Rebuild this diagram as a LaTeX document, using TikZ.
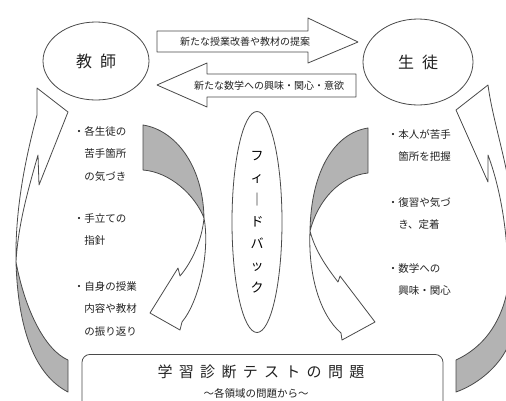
\documentclass[tikz,border=0pt]{standalone}
\usepackage{fontspec}
\setmainfont{Noto Sans CJK JP}
\usetikzlibrary{shapes.geometric}
\definecolor{lc}{HTML}{4A4A4A}
\definecolor{gf}{HTML}{B3B3B3}
\definecolor{tc}{HTML}{222222}
\newcommand{\itm}{\llap{・}}
\newcommand{\tsp}{\hspace{0.42em}}

\begin{document}
\begin{tikzpicture}[x=1pt, y=-1pt, line width=0.8pt,
  ln/.style={draw=lc, line join=round},
  band/.style={ln, fill=gf},
  blk/.style={ln, fill=white},
  oval/.style={draw=lc, ellipse, inner sep=0pt},
  lab/.style={text=tc, inner sep=0pt, font=\fontsize{10}{12}\selectfont},
  note/.style={text=tc, inner sep=0pt, anchor=north west, align=left, font=\fontsize{10.5}{22.5}\selectfont}]
\useasboundingbox (0,0) rectangle (506,400);
\fill[white] (0,0) rectangle (506,400);
\clip (0,0) rectangle (506,400);

\node[oval, minimum width=106pt, minimum height=78pt, font=\fontsize{16}{18}\selectfont, text=tc] (t) at (96,61) {教\hspace{0.5em}師};
\node[oval, minimum width=110pt, minimum height=86pt, font=\fontsize{16}{18}\selectfont, text=tc] (s) at (418,62) {生\hspace{0.5em}徒};
\node[oval, minimum width=50pt, minimum height=221pt, align=center, font=\fontsize{13}{22}\selectfont] (f) at (257,222) {フ\\ィ\\｜\\ド\\バ\\ッ\\ク};

\draw[blk] (157,31) -- (308,31) -- (308,18) -- (358,42) -- (308,63) -- (308,52) -- (157,52) -- cycle;
\node[lab] (p) at (245,42) {新たな授業改善や教材の提案};
\draw[blk] (157,85) -- (207,63) -- (207,74) -- (356,74) -- (356,97) -- (207,97) -- (207,107) -- cycle;
\node[lab] (m) at (269,86) {新たな数学への興味・関心・意欲};

\draw[band] (143,125) .. controls (175,130) and (203,165) .. (204,218) .. controls (195,195) and (170,172) .. (143,170) -- cycle;
\draw[blk] (204,218) .. controls (210,250) and (200,300) .. (182,322) -- (180,330) -- (150,313) -- (178,268) -- (180,276) .. controls (192,262) and (202,240) .. (204,218) -- cycle;
\draw[band] (368,128) .. controls (335,133) and (311,170) .. (310,231) .. controls (318,200) and (340,176) .. (368,173) -- cycle;
\draw[blk] (310,231) .. controls (308,275) and (320,315) .. (341,333) -- (342,340) -- (375,322) -- (340,276) -- (338,282) .. controls (325,265) and (315,250) .. (310,231) -- cycle;

\draw[blk] (37,88) -- (68,112) -- (39,185) -- (38,155) .. controls (28,190) and (18,225) .. (16,262) .. controls (15,210) and (25,160) .. (37,115) -- cycle;
\draw[band] (16,262) .. controls (25,310) and (45,350) .. (68,360) -- (68,392) .. controls (35,375) and (18,330) .. (16,262) -- cycle;
\draw[blk] (488,85) -- (456,110) -- (488,182) -- (488,155) .. controls (503,195) and (510,250) .. (507,292) .. controls (530,220) and (495,140) .. (488,85) -- cycle;
\draw[band] (507,292) .. controls (500,325) and (482,348) .. (456,360) -- (456,392) .. controls (490,380) and (530,340) .. (507,292) -- cycle;

\node[note] (l1) at (84,126) {\itm 各生徒の\\苦手箇所\\の気づき};
\node[note] (l2) at (84,213) {\itm 手立ての\\指針};
\node[note] (l3) at (84,281) {\itm 自身の授業\\内容や教材\\の振り返り};
\node[note] (r1) at (398,129) {\itm 本人が苦手\\箇所を把握};
\node[note] (r2) at (398,197) {\itm 復習や気づ\\き、定着};
\node[note] (r3) at (398,263) {\itm 数学への\\興味・関心};

\node[draw=lc, rounded corners=8pt, minimum width=361pt, minimum height=70pt, anchor=north] (b) at (262.5,354) {};
\node[text=tc, inner sep=0pt, font=\fontsize{15}{18}\selectfont] (q) at (261,372) {学\tsp 習\tsp 診\tsp 断\tsp テ\tsp ス\tsp ト\tsp の\tsp 問\tsp 題};
\node[text=tc, inner sep=0pt, font=\fontsize{10.5}{12}\selectfont] (d) at (256,393) {〜各領域の問題から〜};
\end{tikzpicture}
\end{document}
